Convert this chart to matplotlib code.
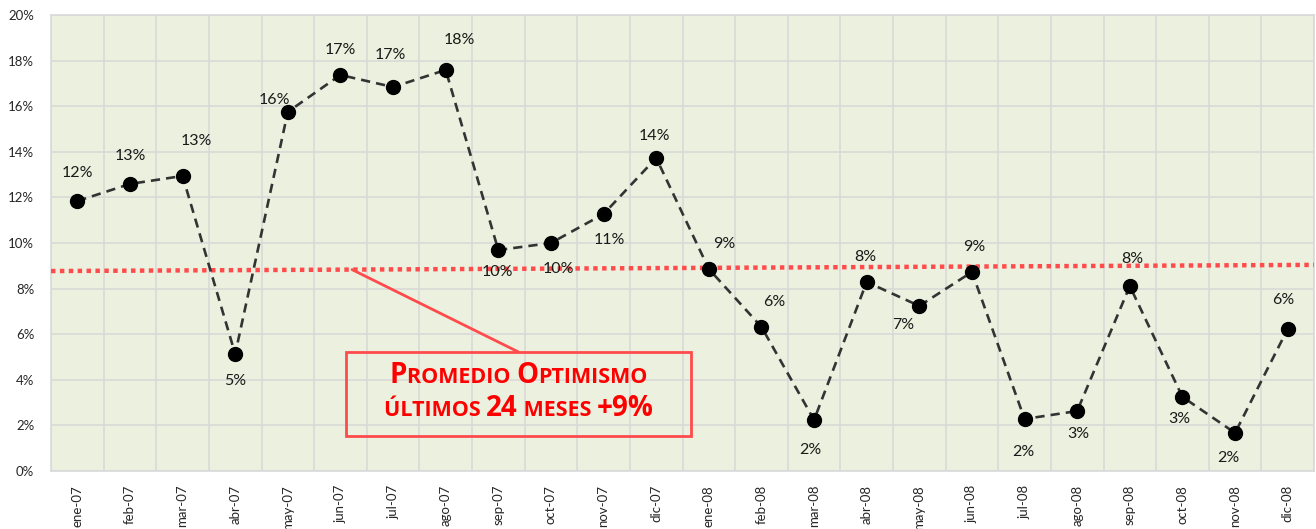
import matplotlib
matplotlib.use("Agg")
import matplotlib.pyplot as plt
from matplotlib.patches import Rectangle
from matplotlib.offsetbox import TextArea, HPacker, VPacker, AnnotationBbox

months = ["ene-07", "feb-07", "mar-07", "abr-07", "may-07", "jun-07", "jul-07", "ago-07",
          "sep-07", "oct-07", "nov-07", "dic-07", "ene-08", "feb-08", "mar-08", "abr-08",
          "may-08", "jun-08", "jul-08", "ago-08", "sep-08", "oct-08", "nov-08", "dic-08"]
optimismo = [11.84, 12.59, 12.94, 5.13, 15.75, 17.37, 16.84, 17.59,
             9.69, 10.00, 11.27, 13.73, 8.86, 6.32, 2.24, 8.29,
             7.24, 8.73, 2.28, 2.63, 8.11, 3.25, 1.67, 6.23]
trend_start, trend_end = 8.77, 9.04   # promedio line, left and right edge
y_ticks = [0, 2, 4, 6, 8, 10, 12, 14, 16, 18, 20]

# label offsets in pixels (dx, dy) for each data label
label_offsets = [(0, 28), (0, 28), (14, 35), (0, -27), (-13, 12), (0, 25), (-3, 32), (14, 30),
                 (-1, -22), (7, -26), (6, -26), (-2, 22), (15, 25), (13, 25), (-4, -30), (-1, 25),
                 (-16, -19), (2, 25), (-1, -33), (1, -23), (3, 27), (-3, -22), (-7, -25), (-4, 29)]

W, H = 1316, 529
fig = plt.figure(figsize=(W / 100, H / 100), dpi=100)
ax = fig.add_axes([51 / W, (H - 471) / H, 1263 / W, 456 / H])
ax.set_facecolor("#EBF1DE")

x = list(range(len(months)))
ax.plot(x, optimismo, color="#333333", lw=1.9, ls=(0, (3.5, 2.3)), marker="o", ms=10,
        mfc="black", mec="black", zorder=4)
ax.plot([-0.5, len(months) - 0.5], [trend_start, trend_end], color="#FF4B4B", lw=3.2,
        ls=(0, (1, 1)), zorder=3, solid_capstyle="butt")

for xi, v, (dx, dy) in zip(x, optimismo, label_offsets):
    ax.annotate(f"{round(v):d}%", (xi, v), xytext=(dx, dy), textcoords="offset pixels",
                ha="center", va="center", fontsize=11.5, family="Lato", color="#1a1a1a", zorder=5)

ax.set_xlim(-0.5, len(months) - 0.5)
ax.set_ylim(0, 20)
ax.set_yticks(y_ticks)
ax.set_yticklabels([f"{t}%" for t in y_ticks], fontsize=9.5, family="Lato", color="#262626")
ax.set_xticks(x)
ax.set_xticklabels(months, rotation=90, fontsize=9.5, family="Lato", color="#262626")
ax.set_xticks([i - 0.5 for i in range(len(months) + 1)], minor=True)
ax.tick_params(which="both", length=0)
ax.tick_params(axis="y", pad=12)
ax.tick_params(axis="x", pad=10)
ax.grid(True, which="minor", axis="x", color="#D9D9D9", lw=1.2)
ax.grid(True, which="major", axis="y", color="#D9D9D9", lw=1.2)
ax.set_axisbelow(True)
for s in ax.spines.values():
    s.set_color("#D9D9D9")
    s.set_linewidth(1.2)

# annotation box
bx0, bx1 = (346 - 51) / 1263, (691 - 51) / 1263
by0, by1 = (471 - 436) / 456, (471 - 352) / 456
ax.add_patch(Rectangle((bx0, by0), bx1 - bx0, by1 - by0, transform=ax.transAxes,
                       fill=False, edgecolor="#FF4B4B", lw=2, zorder=6))
conn_x = 5.22
conn_y = trend_start + (trend_end - trend_start) * (conn_x + 0.5) / len(months)
ax.annotate("", xy=((bx0 + bx1) / 2, by1), xycoords="axes fraction",
            xytext=(conn_x, conn_y), textcoords="data",
            arrowprops=dict(arrowstyle="-", color="#FF4B4B", lw=2, shrinkA=0, shrinkB=0),
            zorder=6)

big = dict(color="red", fontsize=20, fontweight="bold", family="Open Sans")
small = dict(color="red", fontsize=15.5, fontweight="bold", family="Open Sans")


def sc(parts):
    return HPacker(children=[TextArea(t, textprops=big if b else small) for t, b in parts],
                   align="baseline", pad=0, sep=0)


line1 = sc([("P", True), ("ROMEDIO ", False), ("O", True), ("PTIMISMO", False)])
line2 = sc([("ÚLTIMOS ", False), ("24", True), (" MESES ", False), ("+9%", True)])
box = VPacker(children=[line1, line2], align="center", pad=0, sep=3)
ab = AnnotationBbox(box, ((bx0 + bx1) / 2, (by0 + by1) / 2 + 0.004), xycoords="axes fraction",
                    frameon=False, zorder=7)
ax.add_artist(ab)

fig.savefig("out.png", dpi=100)
